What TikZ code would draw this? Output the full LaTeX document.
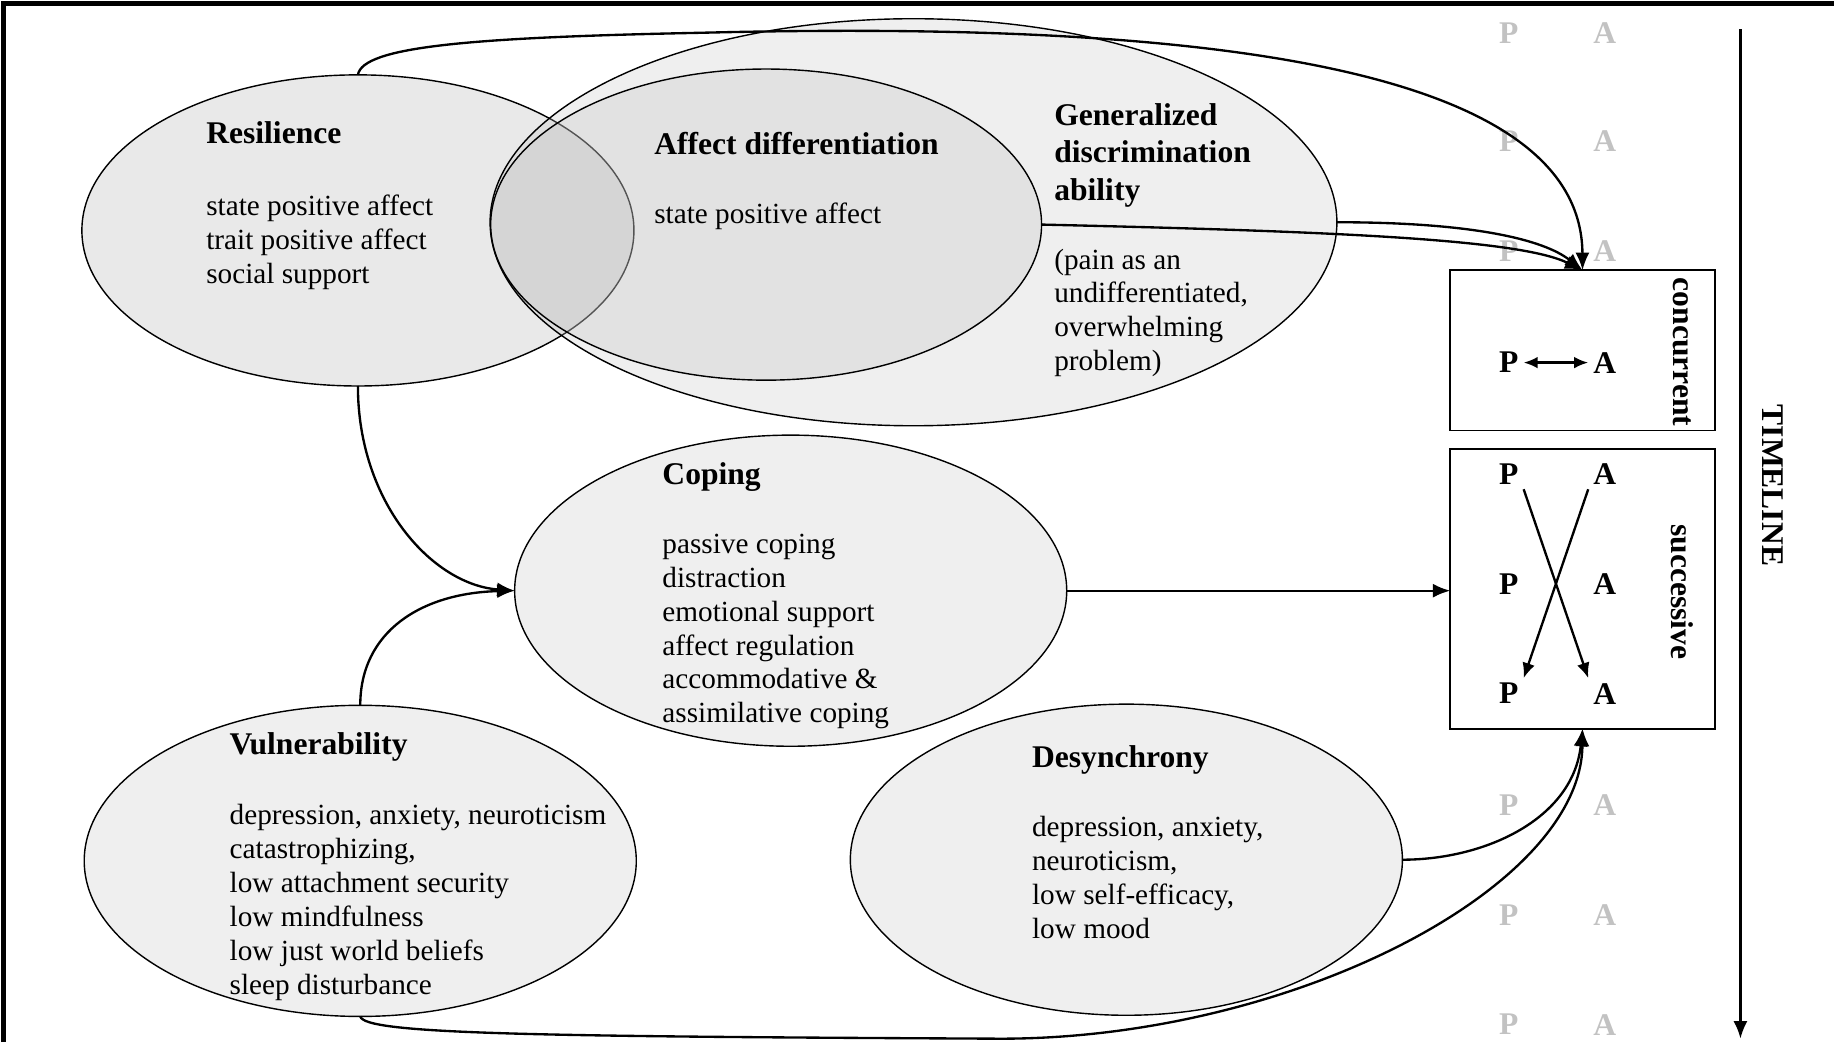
\documentclass[tikz,border=0pt]{standalone}
\usepackage{fontspec}
\setmainfont{Liberation Serif}
\usepackage{tikz}
\usetikzlibrary{shapes.geometric,arrows.meta}
\definecolor{resgray}{gray}{0.914}
\definecolor{softgray}{gray}{0.937}
\definecolor{gdagray}{gray}{0.761}
\definecolor{affgray}{gray}{0.733}
\definecolor{pagray}{gray}{0.76}

\begin{document}
\begin{tikzpicture}[x=0.5pt,y=-0.5pt,
  blob/.style={ellipse,draw,line width=0.6pt,inner sep=0pt,outer sep=0pt,minimum width=236pt,minimum height=133pt},
  head/.style={font=\fontsize{13.5}{16}\selectfont\bfseries,align=left,anchor=base west,inner sep=0pt},
  body/.style={font=\fontsize{12.5}{14.5}\selectfont,align=left,anchor=base west,inner sep=0pt},
  link/.style={line width=1pt,-{Latex[length=7.5pt,width=6pt]}},
  pa/.style={font=\fontsize{13.5}{16}\selectfont\bfseries,inner sep=2pt},
  faint/.style={pa,text=pagray},
  panel/.style={draw,line width=0.8pt,minimum width=113pt,inner sep=0pt,outer sep=0pt},
  small/.style={line width=1pt,-{Latex[length=6.5pt,width=5.5pt]}}]
\useasboundingbox (0,0) rectangle (1568,891);
\draw[line width=2pt] (3,891) -- (3,3) -- (1568,3);

\node[blob,fill=resgray] (res) at (306,197) {};
\node[blob,fill=gdagray,fill opacity=0.263,minimum width=362pt,minimum height=174pt] (gda) at (781,190) {};
\node[blob,fill=affgray,fill opacity=0.25,minimum width=235.5pt] (aff) at (655,192) {};
\node[blob,fill=softgray] (cop) at (676,505) {};
\node[blob,fill=softgray] (vul) at (308,736) {};
\node[blob,fill=softgray] (des) at (963,735) {};

% multi-line nodes sit on their last baseline
\node[head] (reshead) at (176,123) {Resilience};
\node[body] (restext) at (176,242) {state positive affect\\trait positive affect\\social support};
\node[head] (affhead) at (559,132) {Affect differentiation};
\node[body] (afftext) at (559,191) {state positive affect};
\node[head] (gdahead) at (901,171) {Generalized\\discrimination\\ability};
\node[body] (gdatext) at (901,317) {(pain as an\\undifferentiated,\\overwhelming\\problem)};
\node[head] (cophead) at (566,414) {Coping};
\node[body] (coptext) at (566,618) {passive coping\\distraction\\emotional support\\affect regulation\\accommodative \&\\assimilative coping};
\node[head] (vulhead) at (196,645) {Vulnerability};
\node[body] (vultext) at (196,850) {depression, anxiety, neuroticism\\catastrophizing,\\low attachment security\\low mindfulness\\low just world beliefs\\sleep disturbance};
\node[head] (deshead) at (882,656) {Desynchrony};
\node[body] (destext) at (882,802) {depression, anxiety,\\neuroticism,\\low self-efficacy,\\low mood};

\foreach \y/\n in {28/1,121/2,215/3,688/4,782/5,876/6} {
  \node[faint] (gp\n) at (1290,\y) {P};
  \node[faint] (ga\n) at (1372,\y) {A};
}

\node[panel,minimum height=68.5pt] (conc) at (1353,299.5) {};
\node[panel,minimum height=119.5pt] (succ) at (1353,503.5) {};
\node[head,rotate=-90,anchor=center] (conclab) at (1438,301) {concurrent};
\node[head,rotate=-90,anchor=center] (succlab) at (1438,506) {successive};

\node[pa] (pc) at (1290,310) {P};
\node[pa] (ac) at (1372,310) {A};
\draw[line width=1pt,{Latex[length=6pt,width=5pt]}-{Latex[length=6pt,width=5pt]}] (pc) -- (ac);

\node[pa] (ps1) at (1290,405) {P};
\node[pa] (as1) at (1372,405) {A};
\node[pa] (ps2) at (1290,499) {P};
\node[pa] (as2) at (1372,499) {A};
\node[pa] (ps3) at (1290,593) {P};
\node[pa] (as3) at (1372,593) {A};
\draw[small] (ps1.south east) -- (as3.north west);
\draw[small] (as1.south west) -- (ps3.north east);

\coordinate (tl0) at (1488,25);
\coordinate (tl1) at (1488,888);
\draw[link] (tl0) -- (tl1);
\node[head,rotate=-90,anchor=center] (tllab) at (1516,415) {TIMELINE};

\draw[link] (res.north) .. controls (310,40) and (400,32) .. (600,28)
  .. controls (1000,18) and (1352,50) .. (conc.north);
\draw[link] (aff.east) .. controls (1150,198) and (1300,205) .. (conc.north);
\draw[link] (gda.east) .. controls (1260,190) and (1320,205) .. (conc.north);
\draw[link] (res.south) .. controls (306,430) and (370,500) .. (cop.west);
\draw[link] (vul.north) .. controls (308,540) and (360,507) .. (cop.west);
\draw[link] (cop.east) -- (cop.east -| succ.west);
\draw[link] (des.east) .. controls (1270,735) and (1345,700) .. (succ.south);
\draw[link] (vul.south) .. controls (312,884) and (450,886) .. (850,888)
  .. controls (1100,890) and (1352,760) .. (succ.south);
\end{tikzpicture}
\end{document}
